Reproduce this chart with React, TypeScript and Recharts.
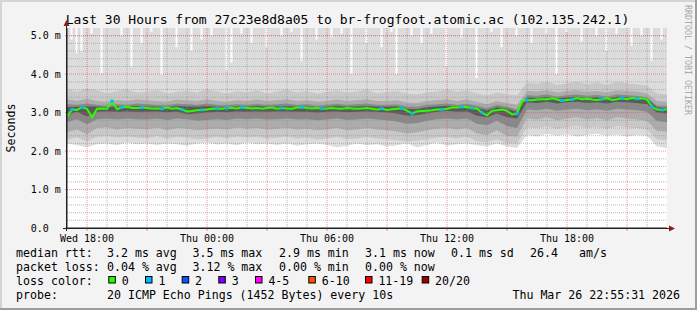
import React from 'react';
import { ComposedChart, Area, Line, Bar, Scatter, XAxis, YAxis, CartesianGrid } from 'recharts';

const MONO = "'DejaVu Sans Mono', monospace";
const GRID = 'rgba(143,143,143,0.6)';
const MGRID = 'rgba(222,80,80,0.6)';
const Y_MAX = 5.2;
const T_START = 17;
const T_END = 47;
// rows are 15 min apart from Wed 17:00, smoke rows every 30 min
const FIRST_HOUR = 17;
const STEP_HOURS = 0.25;

// median rtt (ms), one value per 15 minutes
const median = [
  2.9, 3.08, 3.07, 3.14, 3.1, 2.88, 3.1, 3.11, 3.1, 3.3,
  3.09, 3.14, 3.15, 3.12, 3.12, 3.13, 3.12, 3.11, 3.11, 3.1,
  3.13, 3.1, 3.12, 3.08, 3.03, 3.04, 3.06, 3.07, 3.08, 3.1,
  3.11, 3.1, 3.12, 3.12, 3.11, 3.13, 3.12, 3.11, 3.12, 3.1,
  3.12, 3.13, 3.1, 3.12, 3.11, 3.1, 3.13, 3.14, 3.12, 3.11,
  3.12, 3.1, 3.11, 3.12, 3.11, 3.1, 3.12, 3.11, 3.1, 3.11,
  3.12, 3.1, 3.08, 3.1, 3.07, 3.09, 3.1, 3.11, 3.05, 2.98,
  3.03, 3.04, 3.05, 3.06, 3.08, 3.08, 3.1, 3.13, 3.13, 3.15,
  3.14, 3.12, 3.1, 3.0, 2.93, 3.05, 3.06, 3.08, 3.05, 2.95,
  2.97, 3.3, 3.33, 3.32, 3.34, 3.35, 3.35, 3.37, 3.34, 3.31,
  3.33, 3.34, 3.38, 3.35, 3.36, 3.34, 3.33, 3.35, 3.37, 3.33,
  3.35, 3.37, 3.35, 3.38, 3.36, 3.37, 3.34, 3.15, 3.08, 3.07,
  3.09,
];

// steps where one of 20 pings was lost
const lossOneSteps = [1, 3, 9, 11, 15, 19, 23, 27, 30, 32, 35, 43, 47, 51, 63, 67, 69, 75, 79, 81, 83, 90, 92, 99, 101, 107, 111, 114, 117, 119];

// steps where the slowest ping stayed below the top of the graph
const gapSteps = [1, 2, 3, 5, 7, 11, 13, 15, 17, 19, 22, 25, 27, 29, 32, 33, 35, 37, 40, 43, 45, 47, 50, 53, 55, 57, 60, 63, 65, 66, 69, 71, 73, 76, 79, 82, 85, 87, 90, 93, 96, 98, 100, 103, 106, 108, 110, 113, 115, 117, 119];
const gapBottoms = [4.9, 4.55, 4.6, 5.05, 4.03, 5.0, 4.2, 4.8, 5.1, 3.98, 4.7, 4.6, 4.9, 5.0, 4.1, 4.3, 5.05, 4.8, 4.7, 5.0, 5.1, 4.35, 4.9, 4.95, 5.05, 4.0, 4.8, 4.7, 5.1, 4.0, 5.0, 4.8, 5.05, 4.2, 4.95, 3.9, 5.1, 4.7, 5.0, 4.8, 5.05, 4.0, 5.1, 4.85, 5.0, 4.6, 5.05, 4.75, 5.0, 4.35, 4.9];

// smoke: sorted ping bands, one value per 30 minutes
const smokeMin = [
  2.2, 2.15, 2.1, 2.18, 2.2, 2.15, 2.22, 2.18, 2.2, 2.16,
  2.2, 2.18, 2.14, 2.2, 2.22, 2.17, 2.2, 2.15, 2.22, 2.18,
  2.2, 2.16, 2.2, 2.14, 2.18, 2.2, 2.16, 2.1, 2.14, 2.2,
  2.15, 2.18, 2.12, 2.15, 2.2, 2.1, 2.16, 2.22, 2.14, 2.18,
  2.2, 2.15, 2.12, 2.2, 2.12, 2.08, 2.42, 2.38, 2.45, 2.4,
  2.44, 2.38, 2.42, 2.45, 2.4, 2.43, 2.38, 2.42, 2.4, 2.12,
  2.08,
];
const smokeLo2 = [
  2.3, 2.35, 2.25, 2.37, 2.39, 2.35, 2.38, 2.35, 2.33, 2.39,
  2.32, 2.37, 2.35, 2.31, 2.33, 2.37, 2.33, 2.38, 2.35, 2.37,
  2.33, 2.35, 2.38, 2.33, 2.35, 2.3, 2.33, 2.37, 2.31, 2.33,
  2.37, 2.33, 2.31, 2.28, 2.25, 2.27, 2.31, 2.35, 2.37, 2.33,
  2.37, 2.25, 2.23, 2.31, 2.2, 2.2, 2.62, 2.6, 2.65, 2.58,
  2.62, 2.65, 2.6, 2.63, 2.58, 2.65, 2.62, 2.6, 2.56, 2.3,
  2.28,
];
const smokeHi2 = [
  3.6, 3.55, 3.62, 3.58, 3.5, 3.56, 3.6, 3.52, 3.55, 3.58,
  3.5, 3.54, 3.57, 3.52, 3.6, 3.55, 3.5, 3.56, 3.53, 3.58,
  3.5, 3.55, 3.6, 3.52, 3.56, 3.5, 3.54, 3.58, 3.52, 3.55,
  3.6, 3.5, 3.54, 3.56, 3.5, 3.48, 3.52, 3.55, 3.6, 3.54,
  3.58, 3.5, 3.45, 3.52, 3.48, 3.45, 3.78, 3.75, 3.8, 3.72,
  3.76, 3.8, 3.74, 3.78, 3.72, 3.8, 3.76, 3.74, 3.7, 3.5,
  3.48,
];
const smokeLo3 = [
  2.49, 2.56, 2.44, 2.6, 2.62, 2.56, 2.6, 2.58, 2.56, 2.61,
  2.54, 2.6, 2.58, 2.54, 2.56, 2.59, 2.56, 2.61, 2.58, 2.6,
  2.56, 2.58, 2.6, 2.56, 2.58, 2.54, 2.56, 2.6, 2.54, 2.56,
  2.6, 2.56, 2.54, 2.51, 2.46, 2.49, 2.54, 2.58, 2.6, 2.56,
  2.6, 2.46, 2.42, 2.54, 2.39, 2.38, 2.85, 2.82, 2.88, 2.8,
  2.85, 2.88, 2.82, 2.86, 2.8, 2.88, 2.85, 2.82, 2.78, 2.52,
  2.5,
];
const smokeHi3 = [
  3.35, 3.3, 3.36, 3.3, 3.28, 3.33, 3.3, 3.35, 3.32, 3.3,
  3.28, 3.34, 3.32, 3.3, 3.35, 3.3, 3.28, 3.32, 3.3, 3.34,
  3.3, 3.32, 3.35, 3.3, 3.32, 3.28, 3.3, 3.34, 3.3, 3.32,
  3.35, 3.3, 3.3, 3.32, 3.26, 3.25, 3.3, 3.32, 3.35, 3.3,
  3.34, 3.28, 3.22, 3.3, 3.25, 3.2, 3.56, 3.55, 3.58, 3.52,
  3.56, 3.58, 3.54, 3.56, 3.52, 3.58, 3.56, 3.55, 3.5, 3.3,
  3.28,
];
const smokeLo4 = [
  2.75, 2.83, 2.7, 2.83, 2.85, 2.82, 2.85, 2.83, 2.82, 2.85,
  2.81, 2.85, 2.83, 2.79, 2.81, 2.83, 2.81, 2.85, 2.83, 2.85,
  2.82, 2.83, 2.85, 2.82, 2.83, 2.8, 2.82, 2.85, 2.81, 2.82,
  2.85, 2.82, 2.8, 2.77, 2.71, 2.73, 2.79, 2.83, 2.85, 2.82,
  2.85, 2.71, 2.67, 2.79, 2.65, 2.6, 3.08, 3.06, 3.1, 3.05,
  3.08, 3.1, 3.06, 3.09, 3.05, 3.1, 3.08, 3.06, 3.02, 2.78,
  2.75,
];
const smokeHi4 = [
  3.22, 3.2, 3.24, 3.2, 3.18, 3.22, 3.2, 3.24, 3.22, 3.2,
  3.19, 3.23, 3.22, 3.2, 3.24, 3.2, 3.19, 3.22, 3.2, 3.23,
  3.2, 3.22, 3.24, 3.2, 3.22, 3.18, 3.2, 3.23, 3.2, 3.22,
  3.24, 3.2, 3.2, 3.21, 3.16, 3.15, 3.2, 3.22, 3.24, 3.2,
  3.23, 3.18, 3.12, 3.2, 3.15, 3.08, 3.45, 3.44, 3.47, 3.42,
  3.45, 3.47, 3.44, 3.46, 3.42, 3.47, 3.45, 3.44, 3.4, 3.18,
  3.17,
];
const smokeLo5 = [
  2.95, 3.02, 2.9, 3.02, 3.03, 3.02, 3.03, 3.02, 3.02, 3.03,
  3.01, 3.03, 2.96, 2.98, 3.0, 3.02, 3.01, 3.03, 3.02, 3.03,
  3.02, 3.03, 3.03, 3.02, 3.02, 3.0, 3.02, 3.03, 3.01, 3.02,
  3.03, 3.02, 3.0, 2.98, 2.92, 2.94, 2.98, 3.02, 3.04, 3.02,
  3.03, 2.92, 2.88, 2.98, 2.88, 2.85, 3.26, 3.25, 3.28, 3.24,
  3.27, 3.28, 3.25, 3.27, 3.24, 3.28, 3.27, 3.25, 3.22, 3.0,
  2.98,
];
const smokeHi5 = [
  3.14, 3.15, 3.16, 3.16, 3.14, 3.16, 3.15, 3.17, 3.16, 3.15,
  3.14, 3.17, 3.16, 3.15, 3.17, 3.15, 3.14, 3.16, 3.15, 3.17,
  3.15, 3.16, 3.17, 3.15, 3.16, 3.13, 3.15, 3.17, 3.15, 3.16,
  3.17, 3.15, 3.15, 3.16, 3.1, 3.09, 3.14, 3.16, 3.18, 3.15,
  3.17, 3.12, 3.06, 3.14, 3.1, 3.02, 3.39, 3.38, 3.41, 3.37,
  3.4, 3.41, 3.38, 3.4, 3.37, 3.41, 3.4, 3.38, 3.36, 3.13,
  3.12,
];

const smokeBands = [
  { key: 'b1', lo: smokeMin, hi: null as number[] | null, color: '#dcdcdc' },
  { key: 'b2', lo: smokeLo2, hi: smokeHi2, color: '#c8c8c8' },
  { key: 'b3', lo: smokeLo3, hi: smokeHi3, color: '#acacac' },
  { key: 'b4', lo: smokeLo4, hi: smokeHi4, color: '#888888' },
  { key: 'b5', lo: smokeLo5, hi: smokeHi5, color: '#5a5a5a' },
];

const majorHours = [18, 21, 24, 27, 30, 33, 36, 39, 42, 45];
const minorHours = [19, 20, 22, 23, 25, 26, 28, 29, 31, 32, 34, 35, 37, 38, 40, 41, 43, 44, 46];
const hourLabels: Record<number, string> = { 18: 'Wed 18:00', 24: 'Thu 00:00', 30: 'Thu 06:00', 36: 'Thu 12:00', 42: 'Thu 18:00' };
const yMajor = [0, 1, 2, 3, 4, 5];
const yMinor = [0.2, 0.4, 0.6, 0.8, 1.2, 1.4, 1.6, 1.8, 2.2, 2.4, 2.6, 2.8, 3.2, 3.4, 3.6, 3.8, 4.2, 4.4, 4.6, 4.8, 5.0];

const rttStats = ['3.2 ms avg', '3.5 ms max', '2.9 ms min', '3.1 ms now', '0.1 ms sd'];
const lossStats = ['0.04 % avg', '3.12 % max', '0.00 % min', '0.00 % now'];
const statX = [107, 192.5, 279, 365, 451];
const lossLabels = ['0', '1', '2', '3', '4-5', '6-10', '11-19', '20/20'];
const lossColors = ['#26ff00', '#00b8ff', '#0059ff', '#7e00ff', '#ff00ff', '#ff5500', '#ff0000', '#a00000'];
const lossBoxX = [108.3, 145, 181.7, 218.3, 255, 308.3, 365, 421.7];

const rows = median.map((m, i) => {
  const row: any = { t: FIRST_HOUR + i * STEP_HOURS, median: m };
  if (i % 2 === 0) {
    const j = i / 2;
    smokeBands.forEach(b => {
      row[b.key] = [b.lo[j], b.hi ? b.hi[j] : Y_MAX];
    });
  }
  const g = gapSteps.indexOf(i);
  if (g >= 0) row.gap = [gapBottoms[g], Y_MAX];
  return row;
});

const lossPoints = lossOneSteps.map(i => ({ t: rows[i].t, v: median[i] }));

// map a value through whatever scale shape the grid generator hands us
const applyScale = (s: any, v: number, fallback: () => number) => {
  if (typeof s === 'function') return s(v);
  if (s && typeof s.map === 'function') return s.map(v);
  if (s && typeof s.scale === 'function') return s.scale(v);
  return fallback();
};
const xLines = (hours: number[]) => (args: any) => {
  const o = args.offset;
  return hours.map(h => applyScale(args?.xAxis?.scale, h, () => o.left + ((h - T_START) / (T_END - T_START)) * o.width));
};
const yLines = (vals: number[]) => (args: any) => {
  const o = args.offset;
  return vals.map(v => applyScale(args?.yAxis?.scale, v, () => o.top + ((Y_MAX - v) / Y_MAX) * o.height));
};

const YTick = (props: any) => {
  const { x, y, payload } = props;
  const label = payload.value === 0 ? '0.0' : `${payload.value.toFixed(1)} m`;
  return (
    <text x={x - 29.3} y={y + 3.6} textAnchor="start" fontFamily={MONO} fontSize={10} fill="#000">
      {label}
    </text>
  );
};

const XTick = (props: any) => {
  const { x, y, payload } = props;
  const label = hourLabels[payload.value];
  if (!label) return <g />;
  return (
    <text x={x} y={y + 9} textAnchor="middle" fontFamily={MONO} fontSize={10} fill="#000">
      {label}
    </text>
  );
};

const LossMark = (props: any) => {
  const { cx, cy } = props;
  return <rect x={cx - 1.5} y={cy - 1.5} width={3} height={3} fill="#00b8ff" />;
};

const Overlay: React.FC = () => {
  const fs = 11.6;
  return (
    <svg width={697} height={310} style={{ position: 'absolute', left: 0, top: 0, pointerEvents: 'none' }}>
      <rect x={0} y={0} width={697} height={2} fill="#d4d4d4" />
      <rect x={0} y={0} width={2} height={310} fill="#d4d4d4" />
      <rect x={695} y={0} width={2} height={310} fill="#9e9e9e" />
      <rect x={0} y={308} width={697} height={2} fill="#9e9e9e" />

      <text x={347.5} y={24} textAnchor="middle" fontFamily={MONO} fontSize={13} fill="#000">
        Last 30 Hours from 27c23e8d8a05 to br-frogfoot.atomic.ac (102.135.242.1)
      </text>
      <text transform="translate(15,128) rotate(-90)" textAnchor="middle" fontFamily={MONO} fontSize={11.6} fill="#000">
        Seconds
      </text>
      <text transform="translate(684.5,5) rotate(90)" textAnchor="start" fontFamily={MONO} fontSize={8.3} fill="#a8a8a8">
        RRDTOOL / TOBI OETIKER
      </text>

      <line x1={66.5} y1={24} x2={66.5} y2={231} stroke="#222" strokeWidth={1} />
      <line x1={63} y1={228.5} x2={670} y2={228.5} stroke="#222" strokeWidth={1} />
      <polygon points="63.5,26 69.5,26 66.5,20" fill="#8b1a1a" />
      <polygon points="669,225.5 669,231.5 675,228.5" fill="#8b1a1a" />

      <g fontFamily={MONO} fontSize={fs} fill="#000">
        <text x={16} y={257.3}>median rtt:</text>
        {rttStats.map((s, k) => (
          <text key={s} x={statX[k]} y={257.3}>{s}</text>
        ))}
        <text x={530} y={257.3}>26.4</text>
        <text x={579} y={257.3}>am/s</text>

        <text x={16} y={271.3}>packet loss:</text>
        {lossStats.map((s, k) => (
          <text key={s + k} x={statX[k]} y={271.3}>{s}</text>
        ))}

        <text x={16} y={285.3}>loss color:</text>
        {lossLabels.map((l, k) => (
          <g key={l}>
            <rect x={lossBoxX[k] + 0.5} y={276.5} width={6.5} height={6.5} fill={lossColors[k]} stroke="#000" strokeWidth={1} />
            <text x={lossBoxX[k] + 13.4} y={285.3}>{l}</text>
          </g>
        ))}

        <text x={16} y={299.3}>probe:</text>
        <text x={107} y={299.3}>20 ICMP Echo Pings (1452 Bytes) every 10s</text>
        <text x={680} y={299.3} textAnchor="end">Thu Mar 26 22:55:31 2026</text>
      </g>
    </svg>
  );
};

export default function App() {
  return (
    <div style={{ position: 'absolute', left: 0, top: 0, width: 697, height: 310, background: '#f3f3f3', overflow: 'hidden' }}>
      <ComposedChart width={697} height={310} data={rows} margin={{ top: 28, right: 30, bottom: 62, left: 0 }}>
        <CartesianGrid horizontal={false} vertical={false} fill="#ffffff" />
        <XAxis
          dataKey="t"
          type="number"
          domain={[T_START, T_END]}
          ticks={majorHours}
          interval={0}
          height={20}
          tickSize={3}
          tickMargin={2}
          tickLine={{ stroke: MGRID }}
          axisLine={{ stroke: '#222' }}
          tick={XTick}
          allowDataOverflow
        />
        <YAxis
          type="number"
          domain={[0, Y_MAX]}
          ticks={yMajor}
          interval={0}
          width={67}
          tickSize={2}
          tickMargin={5}
          tickLine={{ stroke: MGRID }}
          axisLine={{ stroke: '#222' }}
          tick={YTick}
          allowDataOverflow
        />

        {smokeBands.map(b => (
          <Area
            key={b.key}
            dataKey={b.key}
            type="linear"
            fill={b.color}
            fillOpacity={1}
            stroke="none"
            connectNulls
            dot={false}
            activeDot={false}
            isAnimationActive={false}
          />
        ))}
        <Bar dataKey="gap" fill="#ffffff" barSize={2} isAnimationActive={false} />

        <CartesianGrid
          stroke={GRID}
          strokeDasharray="1 1"
          verticalCoordinatesGenerator={xLines(minorHours)}
          horizontalCoordinatesGenerator={yLines(yMinor)}
          {...({ zIndex: 350 } as any)}
        />
        <CartesianGrid
          stroke={MGRID}
          strokeDasharray="1 1"
          verticalCoordinatesGenerator={xLines(majorHours)}
          horizontalCoordinatesGenerator={yLines(yMajor.slice(1))}
          {...({ zIndex: 360 } as any)}
        />

        <Line dataKey="median" type="linear" stroke="#26ff00" strokeWidth={2} dot={false} activeDot={false} isAnimationActive={false} />
        <Scatter data={lossPoints} dataKey="v" shape={<LossMark />} isAnimationActive={false} />
      </ComposedChart>
      <Overlay />
    </div>
  );
}
